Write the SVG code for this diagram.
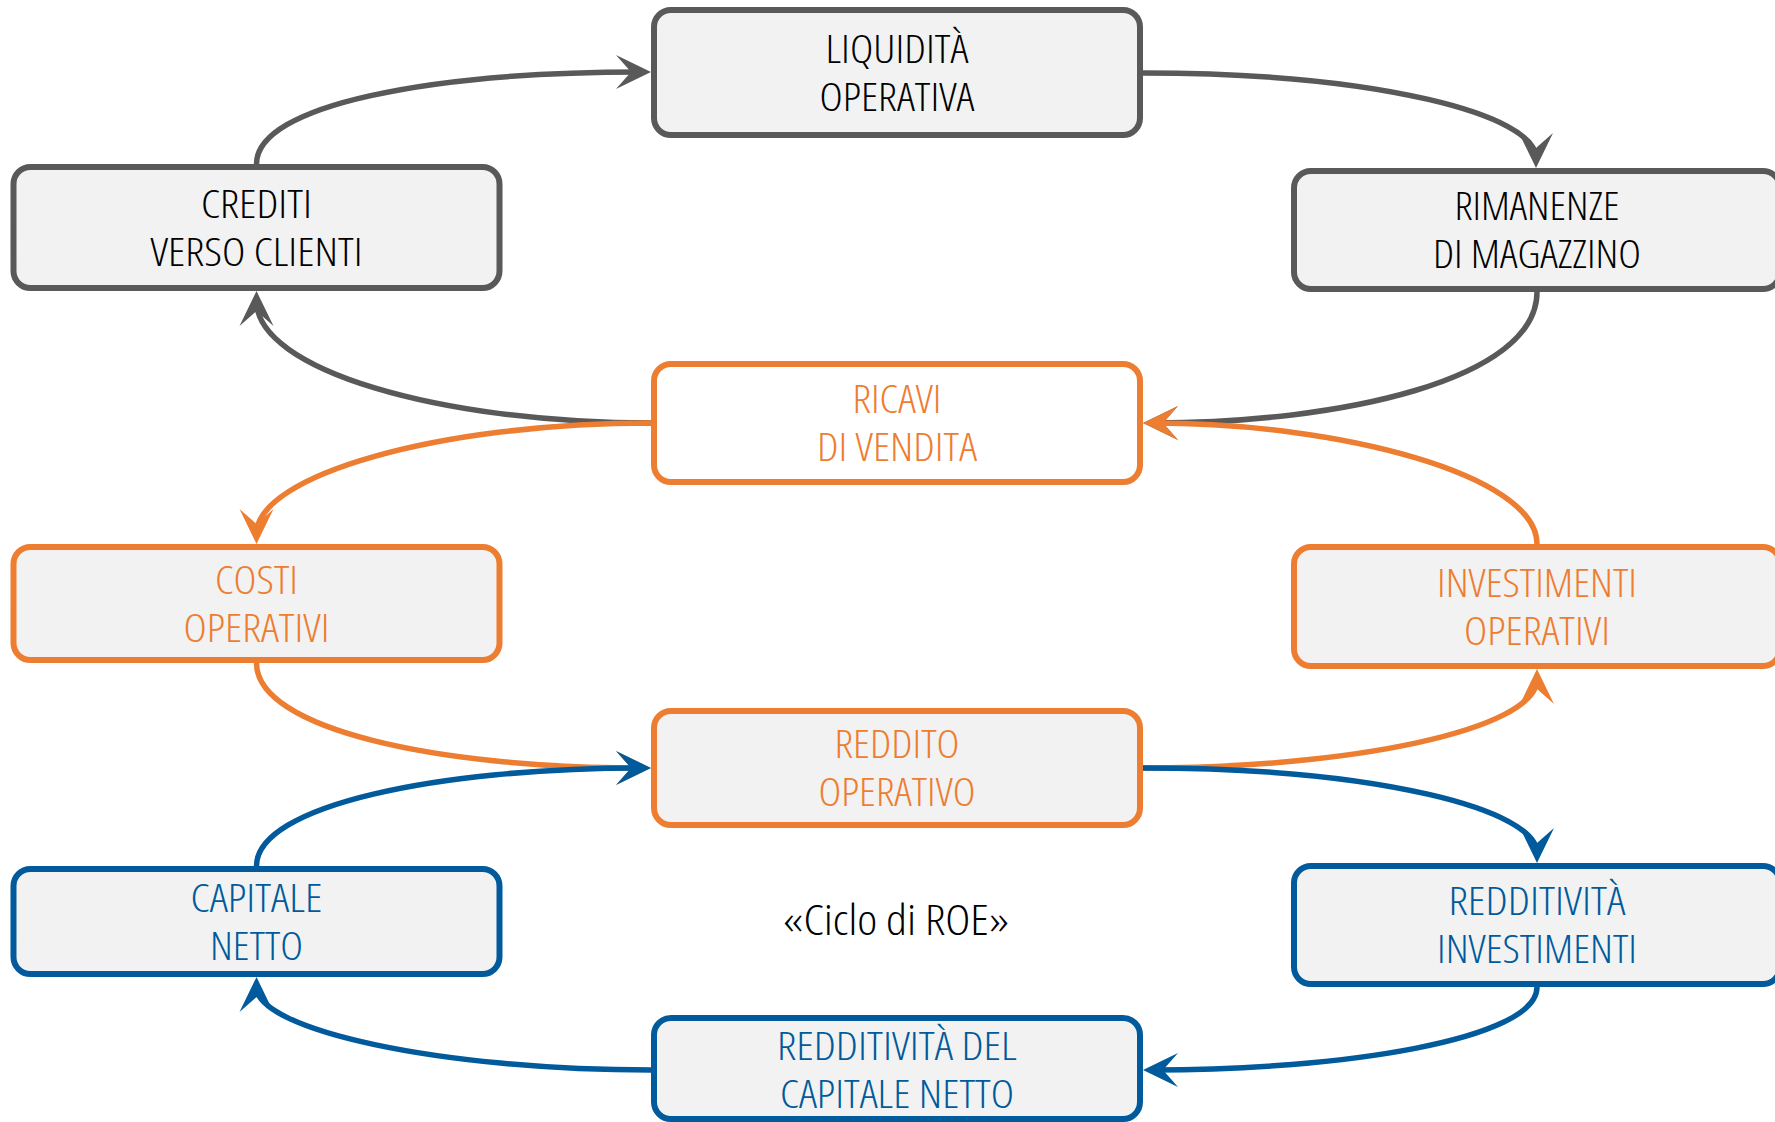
<svg xmlns="http://www.w3.org/2000/svg" width="1775" height="1122" viewBox="0 0 1775 1122">
<style>
.box{stroke-width:6}
.g{fill:#F2F2F2;stroke:#595959}
.o{fill:#F2F2F2;stroke:#ED7D31}
.ow{fill:#FFFFFF;stroke:#ED7D31}
.b{fill:#F2F2F2;stroke:#005A9C}
text{font-family:"Open Sans","Liberation Sans Narrow","DejaVu Sans Condensed",sans-serif;font-stretch:condensed;font-weight:360;font-size:38px;text-anchor:middle}
.tg{fill:#000000}
.to{fill:#ED7D31}
.tb{fill:#005A9C}
.c{fill:none;stroke-width:5.5}
.cg{stroke:#595959}
.co{stroke:#ED7D31}
.cb{stroke:#005A9C}
</style>
<defs>
<marker id="ag" viewBox="-38 -19 40 38" refX="-10" refY="0" markerWidth="40" markerHeight="38" markerUnits="userSpaceOnUse" orient="auto"><path d="M0,0 L-35,-17 L-20,0 L-35,17 Z" fill="#595959"/></marker>
<marker id="ao" viewBox="-38 -19 40 38" refX="-10" refY="0" markerWidth="40" markerHeight="38" markerUnits="userSpaceOnUse" orient="auto"><path d="M0,0 L-35,-17 L-20,0 L-35,17 Z" fill="#ED7D31"/></marker>
<marker id="ab" viewBox="-38 -19 40 38" refX="-10" refY="0" markerWidth="40" markerHeight="38" markerUnits="userSpaceOnUse" orient="auto"><path d="M0,0 L-35,-17 L-20,0 L-35,17 Z" fill="#005A9C"/></marker>
</defs>
<g id="connectors">
<path class="c cg" marker-end="url(#ag)" d="M256.5,164 C256.5,105 430,72 641,72"/>
<path class="c cg" marker-end="url(#ag)" d="M1143,73 C1380,73 1536,115 1536,158"/>
<path class="c cg" marker-end="url(#ag)" d="M1537,292 C1537,380 1340,423 1153,423"/>
<path class="c cg" marker-end="url(#ag)" d="M651,423 C440,423 256.5,370 256.5,301"/>
<path class="c co" marker-end="url(#ao)" d="M651,423 C440,423 256.5,475 256.5,534"/>
<path class="c co" marker-end="url(#ao)" d="M256.5,663 C256.5,730 440,768 641,768"/>
<path class="c co" marker-end="url(#ao)" d="M1143,768 C1350,768 1537,730 1537,679"/>
<path class="c co" marker-end="url(#ao)" d="M1537,544 C1537,475 1340,423 1153,423"/>
<path class="c cb" marker-end="url(#ab)" d="M256.5,866 C256.5,805 440,768 641,768"/>
<path class="c cb" marker-end="url(#ab)" d="M1143,768 C1380,768 1537,810 1537,853"/>
<path class="c cb" marker-end="url(#ab)" d="M1537,987 C1537,1040 1340,1070 1153,1070"/>
<path class="c cb" marker-end="url(#ab)" d="M651,1070 C440,1070 256.5,1030 256.5,987"/>
</g>
<g id="liquidita">
<rect class="box g" x="654" y="10" width="486" height="125" rx="17"/>
<text class="tg" x="897" y="62.5" textLength="143" lengthAdjust="spacingAndGlyphs">LIQUIDITÀ</text>
<text class="tg" x="897" y="110.5" textLength="155" lengthAdjust="spacingAndGlyphs">OPERATIVA</text>
</g>
<g id="crediti">
<rect class="box g" x="13.5" y="167" width="486" height="121" rx="17"/>
<text class="tg" x="256.5" y="217.5" textLength="111" lengthAdjust="spacingAndGlyphs">CREDITI</text>
<text class="tg" x="256.5" y="265.5" textLength="212" lengthAdjust="spacingAndGlyphs">VERSO CLIENTI</text>
</g>
<g id="rimanenze">
<rect class="box g" x="1294" y="171" width="486" height="118" rx="17"/>
<text class="tg" x="1537" y="220" textLength="165" lengthAdjust="spacingAndGlyphs">RIMANENZE</text>
<text class="tg" x="1537" y="268" textLength="208" lengthAdjust="spacingAndGlyphs">DI MAGAZZINO</text>
</g>
<g id="ricavi">
<rect class="box ow" x="654" y="364" width="486" height="118" rx="17"/>
<text class="to" x="897" y="413" textLength="89" lengthAdjust="spacingAndGlyphs">RICAVI</text>
<text class="to" x="897" y="461" textLength="160" lengthAdjust="spacingAndGlyphs">DI VENDITA</text>
</g>
<g id="costi">
<rect class="box o" x="13.5" y="547" width="486" height="113" rx="17"/>
<text class="to" x="256.5" y="593.5" textLength="83" lengthAdjust="spacingAndGlyphs">COSTI</text>
<text class="to" x="256.5" y="641.5" textLength="146" lengthAdjust="spacingAndGlyphs">OPERATIVI</text>
</g>
<g id="investimenti">
<rect class="box o" x="1294" y="547" width="486" height="119" rx="17"/>
<text class="to" x="1537" y="596.5" textLength="200" lengthAdjust="spacingAndGlyphs">INVESTIMENTI</text>
<text class="to" x="1537" y="644.5" textLength="146" lengthAdjust="spacingAndGlyphs">OPERATIVI</text>
</g>
<g id="reddito">
<rect class="box o" x="654" y="711" width="486" height="114" rx="17"/>
<text class="to" x="897" y="758" textLength="125" lengthAdjust="spacingAndGlyphs">REDDITO</text>
<text class="to" x="897" y="806" textLength="157" lengthAdjust="spacingAndGlyphs">OPERATIVO</text>
</g>
<g id="capitale">
<rect class="box b" x="13.5" y="869" width="486" height="105" rx="17"/>
<text class="tb" x="256.5" y="911.5" textLength="132" lengthAdjust="spacingAndGlyphs">CAPITALE</text>
<text class="tb" x="256.5" y="959.5" textLength="93" lengthAdjust="spacingAndGlyphs">NETTO</text>
</g>
<g id="redditivita-investimenti">
<rect class="box b" x="1294" y="866" width="486" height="118" rx="17"/>
<text class="tb" x="1537" y="915" textLength="177" lengthAdjust="spacingAndGlyphs">REDDITIVITÀ</text>
<text class="tb" x="1537" y="963" textLength="200" lengthAdjust="spacingAndGlyphs">INVESTIMENTI</text>
</g>
<g id="redditivita-capitale">
<rect class="box b" x="654" y="1018" width="486" height="101" rx="17"/>
<text class="tb" x="897" y="1060" textLength="240" lengthAdjust="spacingAndGlyphs">REDDITIVITÀ DEL</text>
<text class="tb" x="897" y="1108" textLength="234" lengthAdjust="spacingAndGlyphs">CAPITALE NETTO</text>
</g>
<g id="label">
<text class="tg" x="896" y="935" style="font-size:43px" textLength="226" lengthAdjust="spacingAndGlyphs">«Ciclo di ROE»</text>
</g>
</svg>
